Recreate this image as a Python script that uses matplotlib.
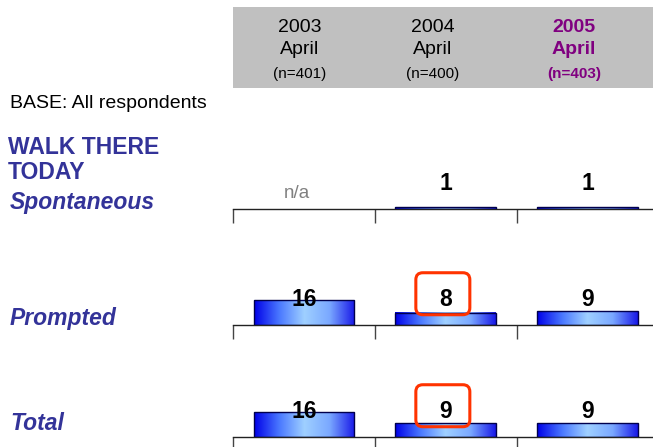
import numpy as np
import matplotlib
matplotlib.use("Agg")
import matplotlib.pyplot as plt
from matplotlib.colors import LinearSegmentedColormap
from matplotlib.patches import Rectangle, FancyBboxPatch
from matplotlib.transforms import IdentityTransform

plt.rcParams["font.family"] = ["Liberation Sans", "DejaVu Sans"]

W, H = 653, 447
NAVY = "#333399"
PURPLE = "#800080"

years = ["2003", "2004", "2005"]
months = ["April", "April", "April"]
bases = ["(n=401)", "(n=400)", "(n=403)"]

rows = ["Spontaneous", "Prompted", "Total"]
spontaneous = [np.nan, 1, 1]
prompted = [16, 8, 9]
total = [16, 9, 9]
series = [spontaneous, prompted, total]
highlight = {1: 1, 2: 1}          # row -> category boxed in red

PX_PER_UNIT = 1.55
LABEL_Y = 16.3
AXIS_Y = [209, 325, 437]          # pixel row of each baseline
AX_H = 70

grad = LinearSegmentedColormap.from_list(
    "bar", ["#0000e8", "#4a78ff", "#9fd0ff", "#7aa8ff", "#1818e8"])

fig = plt.figure(figsize=(W / 100, H / 100), dpi=100)
fig.patch.set_facecolor("white")

# grey header band with the three waves
fig.add_artist(Rectangle((233 / W, 1 - 88 / H), (W - 233) / W, 81 / H,
                         transform=fig.transFigure, facecolor="#c0c0c0",
                         edgecolor="none"))
for i, cx in enumerate([300, 433, 574]):
    latest = i == len(years) - 1
    col = PURPLE if latest else "black"
    wt = "bold" if latest else "normal"
    fig.text(cx / W, 1 - 27 / H, years[i], ha="center", va="center",
             fontsize=14, color=col, fontweight=wt)
    fig.text(cx / W, 1 - 49 / H, months[i], ha="center", va="center",
             fontsize=14, color=col, fontweight=wt)
    fig.text(cx / W, 1 - 74 / H, bases[i], ha="center", va="center",
             fontsize=11, color=col, fontweight=wt)

fig.text(10 / W, 1 - 104 / H, "BASE: All respondents", ha="left",
         va="center", fontsize=14)
fig.text(8 / W, 1 - 160 / H, "WALK THERE\nTODAY", ha="left", va="center",
         fontsize=16.5, fontweight="bold", color=NAVY, linespacing=1.15)
for name, ypx in zip(rows, [203, 319, 424]):
    fig.text(10 / W, 1 - ypx / H, name, ha="left", va="center",
             fontsize=16.5, fontweight="bold", fontstyle="italic",
             color=NAVY)

x = np.arange(len(years))
for r, (vals, base_px) in enumerate(zip(series, AXIS_Y)):
    ax = fig.add_axes([233 / W, 1 - base_px / H, (W - 233) / W, AX_H / H])
    ax.set_facecolor("none")
    for s in ["left", "right", "top"]:
        ax.spines[s].set_visible(False)
    ax.spines["bottom"].set_color("#222222")
    ax.spines["bottom"].set_linewidth(1)
    ax.set_xticks([-0.5, 0.5, 1.5])
    ax.set_xticklabels([])
    ax.tick_params(axis="x", direction="out", length=10, width=1,
                   color="#444444")
    ax.set_yticks([])

    bars = ax.bar(x, vals, width=0.71, facecolor="none", edgecolor="#00004d",
                  linewidth=1, zorder=3)
    for b, v in zip(bars, vals):
        if np.isnan(v):
            continue
        x0 = b.get_x()
        ax.imshow(np.linspace(0, 1, 256)[None, :], cmap=grad, aspect="auto",
                  extent=[x0, x0 + b.get_width(), 0, v], zorder=2)
    ax.set_xlim(-0.5, 2.46)
    ax.set_ylim(0, AX_H / PX_PER_UNIT)

    for xi, v in zip(x, vals):
        if np.isnan(v):
            ax.text(xi - 0.05, 10, "n/a", ha="center", va="center",
                    fontsize=13.5, color="#808080", zorder=4)
        else:
            ax.text(xi, LABEL_Y, f"{v:.0f}", ha="center", va="center",
                    fontsize=16.5, fontweight="bold", zorder=4)

    if r in highlight:
        px, py = ax.transData.transform((highlight[r], LABEL_Y))
        fig.add_artist(FancyBboxPatch(
            (px - 30, py - 15), 54, 42, transform=IdentityTransform(),
            boxstyle="round,pad=0,rounding_size=7", facecolor="none",
            edgecolor="#ff3300", linewidth=2.2, zorder=5))

fig.savefig("out.png", dpi=100, facecolor="white")
